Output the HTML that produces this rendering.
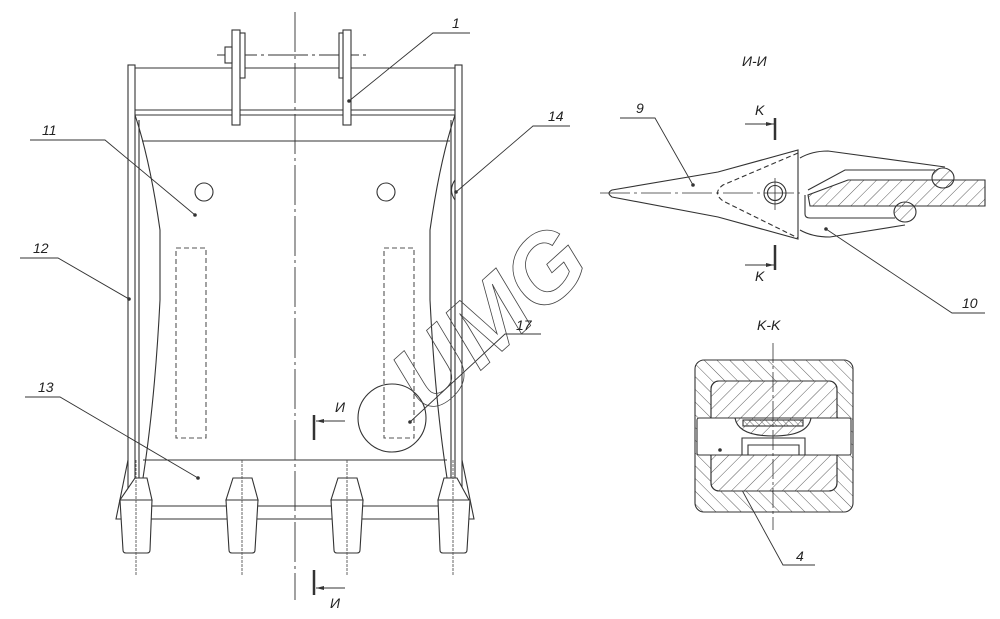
<!DOCTYPE html>
<html><head><meta charset="utf-8"><style>
html,body{margin:0;padding:0;background:#fff;}
svg{display:block;}
text{font-family:"Liberation Sans",sans-serif;font-style:italic;fill:#222;}
</style></head><body>
<svg width="1000" height="619" viewBox="0 0 1000 619" xmlns="http://www.w3.org/2000/svg">
<defs>
<pattern id="h1" width="9" height="9" patternUnits="userSpaceOnUse" patternTransform="rotate(45)"><line x1="0" y1="0" x2="0" y2="9" stroke="#333" stroke-width="0.8"/></pattern>
<pattern id="h2" width="9" height="9" patternUnits="userSpaceOnUse" patternTransform="rotate(-45)"><line x1="0" y1="0" x2="0" y2="9" stroke="#333" stroke-width="0.8"/></pattern>
<pattern id="h3" width="4" height="4" patternUnits="userSpaceOnUse" patternTransform="rotate(-45)"><line x1="0" y1="0" x2="0" y2="4" stroke="#333" stroke-width="0.7"/></pattern>
</defs>
<g fill="none" stroke="#333" stroke-width="1.1">
<line x1="295" y1="12" x2="295" y2="600" stroke-dasharray="40,4,3,4" stroke="#555"/>
<line x1="217" y1="55" x2="370" y2="55" stroke-dasharray="40,4,3,4" stroke-width="0.9"/>
<rect x="128" y="65" width="7" height="429"/>
<rect x="455" y="65" width="7" height="429"/>
<line x1="135" y1="68" x2="455" y2="68"/>
<line x1="135" y1="110" x2="455" y2="110"/>
<line x1="135" y1="115" x2="455" y2="115"/>
<line x1="142" y1="141" x2="450" y2="141"/>
<rect x="232" y="30" width="8" height="95" fill="#fff"/>
<rect x="240" y="33" width="5" height="45" fill="#fff"/>
<rect x="225" y="47" width="7" height="16" fill="#fff"/>
<rect x="343" y="30" width="8" height="95" fill="#fff"/>
<rect x="339" y="33" width="4" height="45" fill="#fff"/>
<path d="M135 115 Q150 160 160 230 L160 300 Q155 400 143 478"/>
<path d="M139 120 L139 485"/>
<path d="M455 115 Q440 160 430 230 L430 300 Q435 400 447 478"/>
<path d="M451 120 L451 485"/>
<path d="M455 180 Q448 190 455 200"/>
<circle cx="204" cy="192" r="9"/>
<circle cx="386" cy="192" r="9"/>
<rect x="176" y="248" width="30" height="190" stroke-dasharray="5,3" stroke="#555"/>
<rect x="384" y="248" width="30" height="190" stroke-dasharray="5,3" stroke="#555"/>
<circle cx="392" cy="418" r="34"/>
<line x1="143" y1="460" x2="447" y2="460"/>
<line x1="120" y1="506" x2="470" y2="506"/>
<line x1="116" y1="519" x2="474" y2="519"/>
<path d="M128 460 L116 519 L121 519"/>
<path d="M462 460 L474 519 L469 519"/>
<g fill="#fff">
<path d="M135 478 L147 478 L152 500 L120 500 Z"/><path d="M120 500 L152 500 L150 550 Q150 553 147 553 L126 553 Q123 553 123 550 Z"/>
<path d="M233 478 L252 478 L258 500 L226 500 Z"/><path d="M226 500 L258 500 L255 550 Q255 553 252 553 L232 553 Q229 553 229 550 Z"/>
<path d="M338 478 L357 478 L363 500 L331 500 Z"/><path d="M331 500 L363 500 L360 550 Q360 553 357 553 L337 553 Q334 553 334 550 Z"/>
<path d="M444 478 L457 478 L469 500 L438 500 Z"/><path d="M438 500 L470 500 L467 550 Q467 553 464 553 L443 553 Q440 553 440 550 Z"/>
</g>
<g stroke-dasharray="3,1" stroke="#555" stroke-width="0.9">
<line x1="136" y1="460" x2="136" y2="575"/><line x1="242" y1="460" x2="242" y2="575"/>
<line x1="347" y1="460" x2="347" y2="575"/><line x1="453" y1="460" x2="453" y2="575"/>
</g>
<line x1="314" y1="415" x2="314" y2="440" stroke-width="2.5"/>
<line x1="316" y1="421" x2="345" y2="421"/>
<line x1="314" y1="570" x2="314" y2="595" stroke-width="2.5"/>
<line x1="316" y1="588" x2="345" y2="588"/>
<g stroke-width="0.9">
<path d="M349 101 L433 33 L470 33"/>
<path d="M195 215 L105 140 L30 140"/>
<path d="M129 299 L58 258 L20 258"/>
<path d="M198 478 L60 397 L25 397"/>
<path d="M456 192 L533 126 L570 126"/>
<path d="M410 422 L505 334 L541 334"/>
<path d="M693 185 L655 118 L620 118"/>
<path d="M826 229 L952 313 L985 313"/>
<path d="M720 450 L783 565 L815 565"/>
</g>
<line x1="600" y1="193" x2="800" y2="193" stroke-dasharray="30,4,3,4" stroke-width="0.8"/>
<path d="M612 190 L718 172 L798 150 L798 239 L718 217 L612 197 Q606 193 612 190 Z"/>
<path d="M798 153 L723 185 Q712 193 723 201 L798 238" stroke-dasharray="5,3"/>
<circle cx="775" cy="193" r="11"/><circle cx="775" cy="193" r="7.5"/>
<line x1="775" y1="178" x2="775" y2="210" stroke-width="0.8"/>
<path d="M800 158 Q812 151 828 151 L945 167"/>
<path d="M800 230 Q812 237 830 237 L905 225"/>
<path d="M808 190 L845 170 L935 170"/>
<path d="M805 195 L805 214 Q805 218 810 218 L895 218"/>
<path d="M848 180 L985 180 L985 206 L810 206 L808 195 Z" fill="url(#h1)"/>
<ellipse cx="943" cy="178" rx="11" ry="10" fill="url(#h1)"/><ellipse cx="905" cy="212" rx="11" ry="10" fill="url(#h1)"/>
<line x1="775" y1="118" x2="775" y2="140" stroke-width="2.5"/>
<line x1="745" y1="124" x2="774" y2="124"/>
<line x1="775" y1="245" x2="775" y2="270" stroke-width="2.5"/>
<line x1="745" y1="265" x2="774" y2="265"/>
<rect x="695" y="360" width="158" height="152" rx="9" fill="url(#h2)"/>
<rect x="711" y="381" width="126" height="110" rx="8" fill="#fff"/>
<rect x="711" y="381" width="126" height="110" rx="8" fill="url(#h1)"/>
<rect x="697" y="418" width="154" height="37" rx="2" fill="#fff"/>
<path d="M735 418 Q738 436 773 436 Q808 436 811 418 Z" fill="url(#h1)"/>
<rect x="743" y="420" width="60" height="6" fill="url(#h3)"/>
<path d="M742 455 L742 438 L805 438 L805 455"/>
<path d="M748 455 L748 445 L799 445 L799 455"/>
<line x1="773" y1="343" x2="773" y2="530" stroke-dasharray="20,3,3,3" stroke-width="0.8"/>
</g>
<g fill="#333">
<circle cx="349" cy="101" r="1.8"/><circle cx="195" cy="215" r="1.8"/><circle cx="129" cy="299" r="1.8"/>
<circle cx="198" cy="478" r="1.8"/><circle cx="456" cy="192" r="1.8"/><circle cx="410" cy="422" r="1.8"/>
<circle cx="693" cy="185" r="1.8"/><circle cx="826" cy="229" r="1.8"/><circle cx="720" cy="450" r="1.8"/>
<path d="M316 421 L324 419 L324 423 Z"/><path d="M316 588 L324 586 L324 590 Z"/>
<path d="M774 124 L766 122 L766 126 Z"/><path d="M774 265 L766 263 L766 267 Z"/>
</g>
<text x="0" y="0" transform="translate(428,418) rotate(-42)" font-size="96" font-style="normal" font-weight="bold" fill="none" stroke="#444" stroke-width="0.8" style="fill:none">UMG</text>
<g font-size="14">
<text x="452" y="28">1</text><text x="42" y="135">11</text><text x="33" y="253">12</text>
<text x="38" y="392">13</text><text x="548" y="121">14</text><text x="516" y="330">17</text>
<text x="636" y="113">9</text><text x="962" y="308">10</text><text x="796" y="561">4</text>
<text x="335" y="412">И</text><text x="330" y="608">И</text>
<text x="755" y="115">K</text><text x="755" y="281">K</text>
<text x="742" y="66">И-И</text><text x="757" y="330">K-K</text>
</g>
</svg>
</body></html>
